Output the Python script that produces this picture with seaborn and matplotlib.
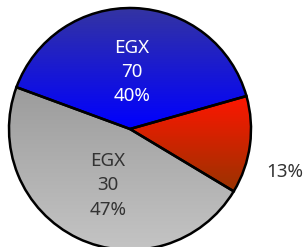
import numpy as np
import matplotlib
matplotlib.use("Agg")
import matplotlib.pyplot as plt
import seaborn as sns
from matplotlib.colors import LinearSegmentedColormap

sns.set_theme(style="white")
plt.rcParams["font.family"] = ["Noto Sans", "DejaVu Sans"]

# data
names = ["", "EGX\n70", "EGX\n30"]
shares = [13, 40, 47]
pct_labels = ["13%", "40%", "47%"]
grad_top = ["#ff1600", "#3434a2", "#9c9c9c"]
grad_bottom = ["#993300", "#0000ff", "#c4c4c4"]
text_colors = ["#333333", "white", "#333333"]

R = 121.0
fig = plt.figure(figsize=(3.08, 2.47), dpi=100)
ax = fig.add_axes([0, 0, 1, 1])
ax.set_aspect("equal")
ax.axis("off")

wedges, _ = ax.pie(shares, startangle=-31, counterclock=True, radius=1,
                   wedgeprops=dict(edgecolor="black", linewidth=1.8))

for w, top, bot in zip(wedges, grad_top, grad_bottom):
    cmap = LinearSegmentedColormap.from_list("g", [bot, top])
    bb = w.get_path().get_extents(w.get_transform()).transformed(ax.transData.inverted())
    grad = np.linspace(0, 1, 256).reshape(-1, 1)
    im = ax.imshow(grad, cmap=cmap, origin="lower", aspect="auto",
                   extent=[bb.x0, bb.x1, bb.y0, bb.y1], zorder=1)
    im.set_clip_path(w)
    w.set_facecolor("none")
    w.set_zorder(2)

ax.set_xlim(-130 / R, 178 / R)
ax.set_ylim(-118 / R, 129 / R)

# labels
for i, (w, name, pct, tc) in enumerate(zip(wedges, names, pct_labels, text_colors)):
    mid = np.deg2rad((w.theta1 + w.theta2) / 2)
    if name:
        r = 0.47 if i == 1 else 0.5
        ang = mid + (np.deg2rad(4) if i == 2 else 0)
        ax.text(r * np.cos(ang), r * np.sin(ang), name + "\n" + pct,
                ha="center", va="center", color=tc, fontsize=13.5,
                linespacing=1.45, zorder=3)
    else:
        ang = mid - np.deg2rad(8)
        ax.text(1.33 * np.cos(ang), 1.33 * np.sin(ang), pct,
                ha="center", va="center", color=tc, fontsize=13.5, zorder=3)

fig.savefig("out.png", dpi=100)
